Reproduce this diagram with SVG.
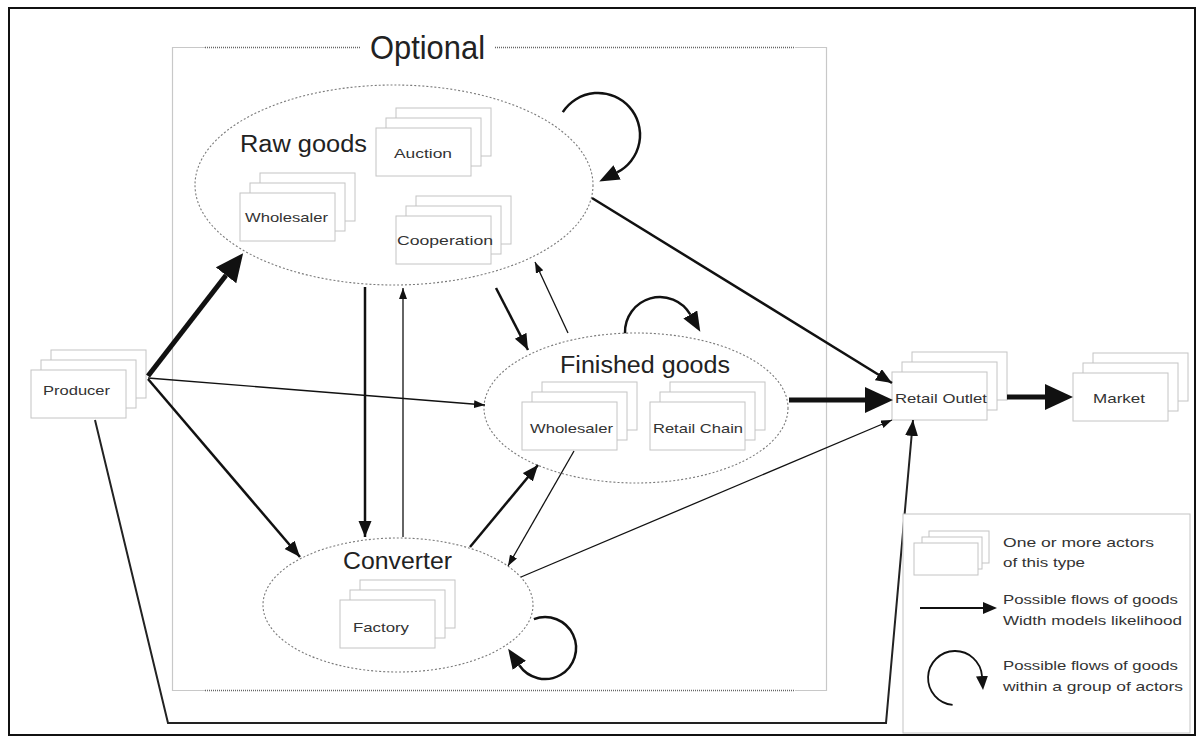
<svg xmlns="http://www.w3.org/2000/svg" xmlns:xlink="http://www.w3.org/1999/xlink" width="1204" height="744" viewBox="0 0 1204 744">
<style>
.bx{fill:#fff;stroke:#c4c4c4;stroke-width:1}
.ell{fill:#fff;stroke:#7a7a7a;stroke-width:1.1;stroke-dasharray:2 2}
.big{font-family:"Liberation Sans",Arial,sans-serif;font-size:23px;fill:#222}
.lbl{font-family:"Liberation Sans",Arial,sans-serif;font-size:13px;fill:#333}
.leg{font-family:"Liberation Sans",Arial,sans-serif;font-size:13px;fill:#333}
.thick{fill:none;stroke:#111;stroke-width:5}
.med{fill:none;stroke:#111;stroke-width:2.5}
.thin{fill:none;stroke:#111;stroke-width:1.3}
.loop{fill:none;stroke:#111;stroke-width:2.5}
.solidg{stroke:#c8c8c8;stroke-width:1.2;fill:none}
.dotg{stroke:#666;stroke-width:1.4;stroke-dasharray:1 1;fill:none}
</style>
<defs>
<marker id="ahL" markerUnits="userSpaceOnUse" markerWidth="30" markerHeight="28" refX="0" refY="13" orient="auto"><path d="M0,0 L28,13 L0,26 z" fill="#111"/></marker>
<marker id="ahM" markerUnits="userSpaceOnUse" markerWidth="18" markerHeight="14" refX="16" refY="6.5" orient="auto"><path d="M0,0 L16,6.5 L0,13 z" fill="#111"/></marker>
<marker id="ahS" markerUnits="userSpaceOnUse" markerWidth="12" markerHeight="10" refX="11" refY="4" orient="auto"><path d="M0,0 L11,4 L0,8 z" fill="#111"/></marker>
<marker id="ahLoop" markerUnits="userSpaceOnUse" markerWidth="22" markerHeight="18" refX="0" refY="8" orient="auto"><path d="M0,0 L20,8 L0,16 z" fill="#111"/></marker>
<marker id="ahLeg" markerUnits="userSpaceOnUse" markerWidth="16" markerHeight="14" refX="0" refY="6" orient="auto"><path d="M0,0 L14,6 L0,12 z" fill="#111"/></marker>
<g id="stack">
<rect class="bx" x="20" y="-20" width="95" height="48"/>
<rect class="bx" x="10" y="-10" width="95" height="48"/>
<rect class="bx" x="0" y="0" width="95" height="48"/>
</g>
</defs>
<rect x="0" y="0" width="1204" height="744" fill="#fff"/>
<rect x="9" y="8" width="1186" height="727" fill="none" stroke="#111" stroke-width="2"/>

<g id="optional">
<path class="solidg" d="M205,47.5 H172.5 V690.5 H205 M795,47.5 H826.5 V690.5 H795"/>
<path class="dotg" d="M205,47.5 H360 M495,47.5 H795 M205,690.5 H795"/>
<text x="370" y="59" font-family="Liberation Sans,Arial,sans-serif" font-size="33" fill="#222" textLength="115" lengthAdjust="spacingAndGlyphs">Optional</text>
</g>

<g id="raw-goods">
<ellipse class="ell" cx="394" cy="185" rx="199" ry="100"/>
<text class="big" x="240" y="152" textLength="127" lengthAdjust="spacingAndGlyphs">Raw goods</text>
<use xlink:href="#stack" href="#stack" x="376" y="128"/>
<text class="lbl" x="394" y="158" textLength="58" lengthAdjust="spacingAndGlyphs">Auction</text>
<use xlink:href="#stack" href="#stack" x="240" y="193"/>
<text class="lbl" x="245" y="222" textLength="83" lengthAdjust="spacingAndGlyphs">Wholesaler</text>
<use xlink:href="#stack" href="#stack" x="396" y="216"/>
<text class="lbl" x="397" y="245" textLength="96" lengthAdjust="spacingAndGlyphs">Cooperation</text>
</g>

<g id="finished-goods">
<ellipse class="ell" cx="636" cy="408" rx="152" ry="75"/>
<text class="big" x="560" y="373" textLength="170" lengthAdjust="spacingAndGlyphs">Finished goods</text>
<use xlink:href="#stack" href="#stack" x="522" y="402"/>
<text class="lbl" x="530" y="433" textLength="83" lengthAdjust="spacingAndGlyphs">Wholesaler</text>
<use xlink:href="#stack" href="#stack" x="650" y="402"/>
<text class="lbl" x="653" y="433" textLength="90" lengthAdjust="spacingAndGlyphs">Retail Chain</text>
</g>

<g id="converter">
<ellipse class="ell" cx="398" cy="605" rx="135" ry="67"/>
<text class="big" x="343" y="569" textLength="109" lengthAdjust="spacingAndGlyphs">Converter</text>
<use xlink:href="#stack" href="#stack" x="340" y="600"/>
<text class="lbl" x="353" y="632" textLength="56" lengthAdjust="spacingAndGlyphs">Factory</text>
</g>

<g id="producer">
<use xlink:href="#stack" href="#stack" x="31" y="370"/>
<text class="lbl" x="43" y="395" textLength="67" lengthAdjust="spacingAndGlyphs">Producer</text>
</g>

<g id="retail-outlet">
<use xlink:href="#stack" href="#stack" x="892" y="372"/>
<text class="lbl" x="895" y="403" textLength="92" lengthAdjust="spacingAndGlyphs">Retail Outlet</text>
</g>

<g id="market">
<use xlink:href="#stack" href="#stack" x="1073" y="373"/>
<text class="lbl" x="1093" y="403" textLength="52" lengthAdjust="spacingAndGlyphs">Market</text>
</g>

<g id="connectors">
<path class="thick" d="M148,376 L226,275.3" marker-end="url(#ahL)"/>
<path class="thin" d="M148,378 L485,405" marker-end="url(#ahS)"/>
<path class="med" d="M148,379 L300,557" marker-end="url(#ahM)"/>
<path fill="none" stroke="#222" stroke-width="2" d="M95,420 L168,723 L886,723 L913,420" marker-end="url(#ahM)"/>
<path class="med" d="M365,287 L365,537" marker-end="url(#ahM)"/>
<path class="thin" d="M403,537 L403,288" marker-end="url(#ahS)"/>
<path class="med" d="M496,288 L528,350" marker-end="url(#ahM)"/>
<path class="thin" d="M568,333 L535,262" marker-end="url(#ahS)"/>
<path class="med" d="M592,198 L892,383" marker-end="url(#ahM)"/>
<path class="thick" d="M789,400 L865,400" marker-end="url(#ahL)"/>
<path class="thin" d="M574,451 L508,566" marker-end="url(#ahS)"/>
<path class="med" d="M470,547 L538,465" marker-end="url(#ahM)"/>
<path class="thin" d="M521,577 L892,420" marker-end="url(#ahS)"/>
<path class="thick" d="M1007,397 L1045,397" marker-end="url(#ahL)"/>
<path class="loop" d="M562.8,112.1 A42,42 0 1 1 617.1,172.4" marker-end="url(#ahLoop)"/>
<path class="loop" d="M625,333.2 A35,35 0 0 1 690.3,314.5" marker-end="url(#ahLoop)"/>
<path class="loop" d="M533.9,619.1 A31,31 0 1 1 519.3,665.3" marker-end="url(#ahLoop)"/>
</g>

<g id="legend">
<rect x="903" y="514" width="287" height="219" fill="#fff" stroke="#c4c4c4" stroke-width="1"/>
<rect class="bx" x="929" y="531" width="60" height="32"/>
<rect class="bx" x="922" y="537" width="60" height="32"/>
<rect class="bx" x="914" y="543" width="64" height="32"/>
<text class="leg" x="1003" y="547" textLength="151" lengthAdjust="spacingAndGlyphs">One or more actors</text>
<text class="leg" x="1003" y="567" textLength="82" lengthAdjust="spacingAndGlyphs">of this type</text>
<path fill="none" stroke="#111" stroke-width="1.8" d="M920,608 L983,608" marker-end="url(#ahLeg)"/>
<text class="leg" x="1003" y="604" textLength="175" lengthAdjust="spacingAndGlyphs">Possible flows of goods</text>
<text class="leg" x="1003" y="625" textLength="179" lengthAdjust="spacingAndGlyphs">Width models likelihood</text>
<path fill="none" stroke="#111" stroke-width="1.8" d="M952.6,704.9 A27,27 0 1 1 982,676" marker-end="url(#ahLeg)"/>
<text class="leg" x="1003" y="670" textLength="175" lengthAdjust="spacingAndGlyphs">Possible flows of goods</text>
<text class="leg" x="1003" y="691" textLength="180" lengthAdjust="spacingAndGlyphs">within a group of actors</text>
</g>
</svg>
